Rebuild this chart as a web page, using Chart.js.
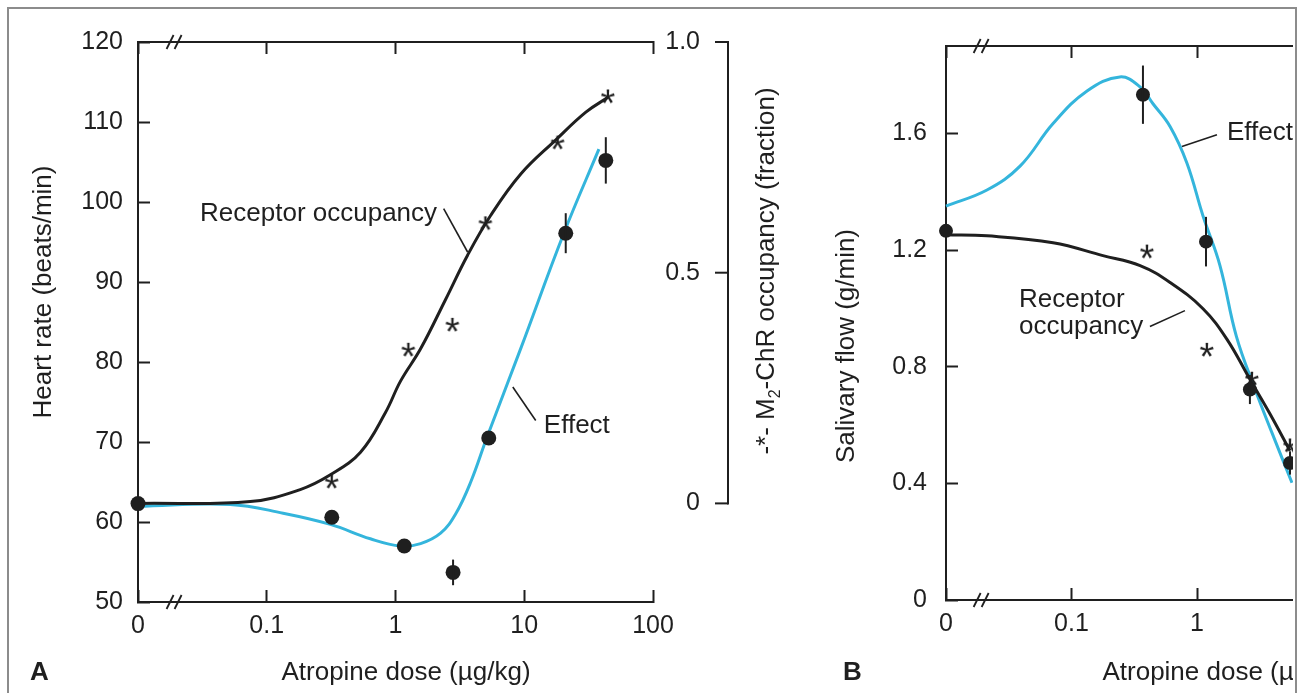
<!DOCTYPE html>
<html>
<head>
<meta charset="utf-8">
<script src="https://cdn.jsdelivr.net/npm/chart.js@4.4.1/dist/chart.umd.min.js"></script>
<style>
  html, body { margin: 0; padding: 0; background: #fff; }
  #root { position: relative; width: 1301px; height: 693px; overflow: hidden; background: #fff; }
  #frame { position: absolute; left: 7px; top: 7px; width: 1286px; height: 720px;
           border: 2px solid #8c8c8c; border-bottom: none; }
  #cA { position: absolute; left: 0; top: 0; }
  #clipB { position: absolute; left: 820px; top: 0; width: 473px; height: 693px; overflow: hidden; }
  #cB { position: absolute; left: 0; top: 0; }
</style>
</head>
<body>
<div id="root">
  <div id="frame"></div>
  <canvas id="cA" width="820" height="693"></canvas>
  <div id="clipB"><canvas id="cB" width="800" height="693"></canvas></div>
</div>
<script>
// ---------- data ----------
const ZERO_POS = -2;      // log-axis position used for dose "0" (axis break)
const BREAK_POS = -1.72;  // where the "//" break marks sit

const X_TICK_DOSES  = [0, 0.1, 1, 10, 100];
const X_TICK_LABELS = ['0', '0.1', '1', '10', '100'];

// Panel A : heart rate
const A_HR_TICKS = [50, 60, 70, 80, 90, 100, 110, 120];
const A_OCC_TICKS = [0, 0.5, 1.0];
const A_OCC_TICK_LABELS = ['0', '0.5', '1.0'];

const A_EFFECT_DOSE = [0, 0.32, 1.17, 2.8, 5.3, 21, 43];
const A_EFFECT_HR   = [62.3, 60.6, 57.0, 53.7, 70.5, 96.1, 105.2];
const A_EFFECT_ERR  = [0, 0, 0, 1.6, 0, 2.5, 2.9];

const A_OCC_DOSE = [0.32, 1.26, 2.77, 5.0, 18.2, 44.7];
const A_OCC_FRAC = [0.047, 0.333, 0.387, 0.607, 0.782, 0.882];

const A_OCC_CURVE_DOSE = [0, 0.0745, 0.182, 0.312, 0.535, 0.836, 1.094, 1.566, 2.449, 3.63, 5.48, 9.40, 17.6, 30.1, 44.7];
const A_OCC_CURVE_FRAC = [0, 0.004, 0.030, 0.062, 0.111, 0.197, 0.265, 0.335, 0.442, 0.538, 0.624, 0.714, 0.788, 0.848, 0.880];

const A_EFFECT_CURVE_DOSE = [0, 0.052, 0.134, 0.312, 0.638, 1.094, 1.566, 2.24, 2.93, 3.84, 5.11, 9.40, 20.3, 38.0];
const A_EFFECT_CURVE_HR   = [61.95, 62.2, 61.1, 59.7, 57.9, 57.0, 57.3, 58.6, 61.0, 65.0, 70.5, 81.7, 96.1, 106.6];

// Panel B : salivary flow
const B_FLOW_TICKS = [0, 0.4, 0.8, 1.2, 1.6];
const B_FLOW_TICK_LABELS = ['0', '0.4', '0.8', '1.2', '1.6'];

const B_EFFECT_DOSE = [0, 0.371, 1.18, 2.64, 5.51];
const B_EFFECT_FLOW = [1.266, 1.733, 1.229, 0.722, 0.470];
const B_EFFECT_ERR  = [0.034, 0.10, 0.085, 0.05, 0.04];

const B_OCC_DOSE = [0.40, 1.20, 2.74, 5.51];
const B_OCC_FLOW = [1.195, 0.858, 0.759, 0.53];

const B_EFFECT_CURVE_DOSE = [0, 0.0212, 0.0389, 0.0713, 0.133, 0.243, 0.352, 0.446, 0.610, 0.832, 1.117, 1.524, 2.06, 2.90, 3.96, 5.71];
const B_EFFECT_CURVE_FLOW = [1.351, 1.406, 1.488, 1.634, 1.746, 1.794, 1.760, 1.702, 1.624, 1.498, 1.317, 1.147, 0.904, 0.723, 0.573, 0.402];

const B_OCC_CURVE_DOSE = [0, 0.0212, 0.0713, 0.178, 0.352, 0.610, 1.117, 1.734, 2.64, 3.82, 5.51];
const B_OCC_CURVE_FLOW = [1.253, 1.249, 1.225, 1.181, 1.147, 1.089, 0.999, 0.894, 0.757, 0.638, 0.512];

// ---------- styling ----------
const FONT = '"Liberation Sans", Arial, Helvetica, sans-serif';
const INK = '#1f1f1f';
const BLUE = '#34b5dc';
const TICK_SIZE = 25;
const LABEL_SIZE = 26;

const toPos = d => (d === 0 ? ZERO_POS : Math.log10(d));
const pts = (xs, ys) => xs.map((d, i) => ({ x: toPos(d), y: ys[i] }));

function makeStar(px) {
  const c = document.createElement('canvas');
  c.width = 28; c.height = 28;
  const g = c.getContext('2d');
  g.font = px + 'px ' + FONT;
  g.fillStyle = INK;
  g.textBaseline = 'alphabetic';
  const m = g.measureText('*');
  const w = m.actualBoundingBoxRight + m.actualBoundingBoxLeft;
  const h = m.actualBoundingBoxAscent + m.actualBoundingBoxDescent;
  g.fillText('*', 14 - w / 2 + m.actualBoundingBoxLeft, 14 - h / 2 + m.actualBoundingBoxAscent);
  return c;
}
const STAR = makeStar(38);

function line(ctx, x1, y1, x2, y2, w) {
  ctx.beginPath(); ctx.lineWidth = w; ctx.strokeStyle = INK;
  ctx.moveTo(x1, y1); ctx.lineTo(x2, y2); ctx.stroke();
}
function text(ctx, s, x, y, size, align, weight) {
  ctx.font = (weight || 'normal') + ' ' + size + 'px ' + FONT;
  ctx.textAlign = align || 'left'; ctx.textBaseline = 'middle'; ctx.fillStyle = INK;
  ctx.fillText(s, x, y);
}
function vtext(ctx, parts, cx, cy, size) {
  ctx.save(); ctx.translate(cx, cy); ctx.rotate(-Math.PI / 2);
  ctx.textBaseline = 'middle'; ctx.textAlign = 'left'; ctx.fillStyle = INK;
  const fontFor = p => (p.sub ? Math.round(size * 0.62) : size) + 'px ' + FONT;
  let total = 0;
  parts.forEach(p => { ctx.font = fontFor(p); total += ctx.measureText(p.t).width; });
  let x = -total / 2;
  parts.forEach(p => { ctx.font = fontFor(p); ctx.fillText(p.t, x, p.sub ? size * 0.32 : 0); x += ctx.measureText(p.t).width; });
  ctx.restore();
}
function breakMarks(ctx, chart) {
  const x = chart.scales.x.getPixelForValue(BREAK_POS);
  [chart.chartArea.top, chart.chartArea.bottom].forEach(y => {
    [-4, 4].forEach(dx => line(ctx, x + dx - 3.5, y + 7, x + dx + 3.5, y - 7, 1.8));
  });
}
function notes(ctx, chart, yId, list, pointers) {
  const xs = chart.scales.x, ys = chart.scales[yId];
  list.forEach(n => text(ctx, n.text, xs.getPixelForValue(n.at[0]), ys.getPixelForValue(n.at[1]), LABEL_SIZE, 'left'));
  pointers.forEach(p => line(ctx, xs.getPixelForValue(p[0][0]), ys.getPixelForValue(p[0][1]),
                                 xs.getPixelForValue(p[1][0]), ys.getPixelForValue(p[1][1]), 1.6));
}

const errorBars = {
  id: 'errorBars',
  afterDatasetsDraw(chart) {
    const ctx = chart.ctx;
    chart.data.datasets.forEach((ds, i) => {
      if (!ds.errors) return;
      const meta = chart.getDatasetMeta(i);
      const ys = chart.scales[meta.yAxisID];
      ds.data.forEach((p, j) => {
        const e = ds.errors[j];
        if (!e) return;
        const el = meta.data[j];
        line(ctx, el.x, ys.getPixelForValue(p.y + e), el.x, ys.getPixelForValue(p.y - e), 2);
      });
    });
  }
};

function xScales(xAxisHeight) {
  const common = {
    type: 'linear', min: ZERO_POS, max: 2,
    afterBuildTicks: s => { s.ticks = X_TICK_DOSES.map(d => ({ value: toPos(d) })); },
    grid: { drawOnChartArea: false, drawTicks: true, tickLength: -12, tickWidth: 2, tickColor: INK, color: INK },
    border: { display: true, color: INK, width: 2 }
  };
  return {
    x: Object.assign({}, common, {
      position: 'bottom',
      afterFit: s => { s.height = xAxisHeight; },
      ticks: { autoSkip: false, maxRotation: 0, padding: 21, color: INK,
               font: { family: FONT, size: TICK_SIZE }, callback: (v, i) => X_TICK_LABELS[i] }
    }),
    x2: Object.assign({}, common, {
      position: 'top',
      afterFit: s => { s.height = 0; },
      ticks: { display: false }
    })
  };
}

function yScale(min, max, tickVals, tickLabels, width, pad) {
  return {
    type: 'linear', position: 'left', min: min, max: max,
    afterBuildTicks: s => { s.ticks = tickVals.map(v => ({ value: v })); },
    afterFit: s => { s.width = width; },
    ticks: { autoSkip: false, padding: pad, color: INK, font: { family: FONT, size: TICK_SIZE },
             callback: (v, i) => tickLabels[i] },
    grid: { drawOnChartArea: false, drawTicks: true, tickLength: -12, tickWidth: 2, tickColor: INK, color: INK },
    border: { display: true, color: INK, width: 2 }
  };
}

function baseOptions(padding, scales) {
  return {
    responsive: false, animation: false, devicePixelRatio: 1,
    layout: { padding: padding },
    plugins: { legend: { display: false }, tooltip: { enabled: false }, title: { display: false } },
    scales: scales
  };
}

function curve(label, xs, ys, yId, color, order) {
  return { label: label, data: pts(xs, ys), yAxisID: yId, borderColor: color, borderWidth: 3,
           pointRadius: 0, tension: 0.4, order: order, clip: false };
}

// ---------- Panel A ----------
const aScales = Object.assign(xScales(91), {
  y: yScale(50, 120, A_HR_TICKS, A_HR_TICKS.map(String), 138, 27),
  y1: { type: 'linear', position: 'right', display: false, min: -0.2137, max: 1.0 }
});

const decorA = {
  id: 'decorA',
  afterDraw(chart) {
    const ctx = chart.ctx, ca = chart.chartArea, y1 = chart.scales.y1;
    ctx.save();
    breakMarks(ctx, chart);
    // right occupancy axis
    const X = ca.right + 75;
    line(ctx, X, y1.getPixelForValue(1.0) - 1, X, y1.getPixelForValue(0) + 1, 2);
    A_OCC_TICKS.forEach((v, k) => {
      const py = y1.getPixelForValue(v);
      line(ctx, X - 13, py, X, py, 2);
      text(ctx, A_OCC_TICK_LABELS[k], X - 28, py, TICK_SIZE, 'right');
    });
    vtext(ctx, [{ t: '-*- M' }, { t: '2', sub: true }, { t: '-ChR occupancy (fraction)' }], 767, 271, LABEL_SIZE);
    vtext(ctx, [{ t: 'Heart rate (beats/min)' }], 44, 292, LABEL_SIZE);
    text(ctx, 'Atropine dose (\u00b5g/kg)', 406, 673, LABEL_SIZE, 'center');
    text(ctx, 'A', 30, 673, LABEL_SIZE, 'left', 'bold');
    notes(ctx, chart, 'y',
      [{ text: 'Receptor occupancy', at: [-1.518, 98.56] }, { text: 'Effect', at: [1.152, 72.06] }],
      [[[0.374, 99.17], [0.560, 93.75]], [[0.911, 76.87], [1.089, 72.68]]]);
    ctx.restore();
  }
};

new Chart(document.getElementById('cA'), {
  type: 'line',
  data: {
    datasets: [
      { label: 'Effect', data: pts(A_EFFECT_DOSE, A_EFFECT_HR), errors: A_EFFECT_ERR, yAxisID: 'y',
        showLine: false, pointRadius: 7.5, pointBackgroundColor: INK, pointBorderWidth: 0, order: 0, clip: false },
      { label: 'M2-ChR occupancy', data: pts(A_OCC_DOSE, A_OCC_FRAC), yAxisID: 'y1',
        showLine: false, pointStyle: STAR, pointRadius: 7, order: 1, clip: false },
      curve('Receptor occupancy', A_OCC_CURVE_DOSE, A_OCC_CURVE_FRAC, 'y1', INK, 2),
      curve('Effect curve', A_EFFECT_CURVE_DOSE, A_EFFECT_CURVE_HR, 'y', BLUE, 3)
    ]
  },
  options: baseOptions({ top: 34, right: 167, bottom: 0, left: 0 }, aScales),
  plugins: [errorBars, decorA]
});

// ---------- Panel B ----------
const bScales = Object.assign(xScales(93), {
  y: yScale(0, 1.9, B_FLOW_TICKS, B_FLOW_TICK_LABELS, 126, 31)
});

const decorB = {
  id: 'decorB',
  afterDraw(chart) {
    const ctx = chart.ctx;
    ctx.save();
    breakMarks(ctx, chart);
    vtext(ctx, [{ t: 'Salivary flow (g/min)' }], 27, 346, LABEL_SIZE);
    text(ctx, 'Atropine dose (\u00b5g/kg)', 407, 673, LABEL_SIZE, 'center');
    text(ctx, 'B', 23, 673, LABEL_SIZE, 'left', 'bold');
    notes(ctx, chart, 'y',
      [{ text: 'Effect', at: [0.239, 1.603] }, { text: 'Receptor', at: [-1.418, 1.030] }, { text: 'occupancy', at: [-1.418, 0.938] }],
      [[[-0.120, 1.555], [0.159, 1.596]], [[-0.375, 0.938], [-0.096, 0.9925]]]);
    ctx.restore();
  }
};

new Chart(document.getElementById('cB'), {
  type: 'line',
  data: {
    datasets: [
      { label: 'Effect', data: pts(B_EFFECT_DOSE, B_EFFECT_FLOW), errors: B_EFFECT_ERR, yAxisID: 'y',
        showLine: false, pointRadius: 7, pointBackgroundColor: INK, pointBorderWidth: 0, order: 0, clip: false },
      { label: 'M2-ChR occupancy', data: pts(B_OCC_DOSE, B_OCC_FLOW), yAxisID: 'y',
        showLine: false, pointStyle: STAR, pointRadius: 7, order: 1, clip: false },
      curve('Receptor occupancy', B_OCC_CURVE_DOSE, B_OCC_CURVE_FLOW, 'y', INK, 2),
      curve('Effect curve', B_EFFECT_CURVE_DOSE, B_EFFECT_CURVE_FLOW, 'y', BLUE, 3)
    ]
  },
  options: baseOptions({ top: 43, right: 172, bottom: 0, left: 0 }, bScales),
  plugins: [errorBars, decorB]
});
</script>
</body>
</html>
